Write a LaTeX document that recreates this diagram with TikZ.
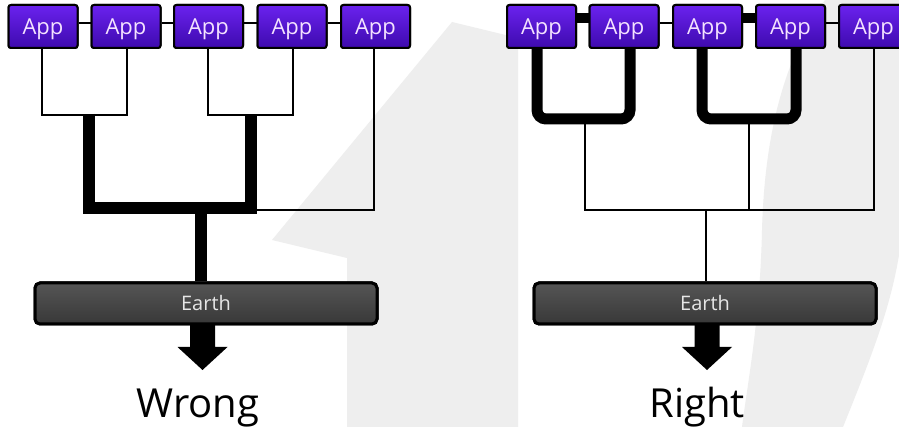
\documentclass[tikz,border=0pt]{standalone}
\usepackage{fontspec}
\setmainfont{Open Sans}
\usetikzlibrary{calc}
\definecolor{bgg}{HTML}{EEEEEE}
\definecolor{apptop}{HTML}{6A22EE}
\definecolor{appbot}{HTML}{3E0AAE}
\definecolor{apptext}{HTML}{F4E2FF}
\definecolor{earthtop}{HTML}{555555}
\definecolor{earthbot}{HTML}{383838}
\definecolor{earthtext}{HTML}{E6E6E6}
\tikzset{
  appbox/.style={draw=black, line width=2pt, rounded corners=2.5pt,
    top color=apptop, bottom color=appbot, text=apptext,
    minimum width=69pt, minimum height=43pt, inner sep=0pt,
    text height=16pt, text depth=0pt,
    font=\fontsize{22}{22}\selectfont},
  earthbar/.style={draw=black, line width=3pt, rounded corners=5pt,
    top color=earthtop, bottom color=earthbot, text=earthtext,
    minimum width=342pt, minimum height=41pt, inner sep=0pt,
    text height=14.5pt, text depth=0pt,
    font=\fontsize{20}{20}\selectfont},
  thinline/.style={draw=black, line width=2pt},
  thickline/.style={draw=black, line width=12pt},
  thickround/.style={draw=black, line width=11pt, rounded corners=9pt},
  link/.style={draw=black, line width=2pt},
  thicklink/.style={draw=black, line width=10pt},
  verdict/.style={anchor=base, font=\fontsize{40}{40}\selectfont, text=black, inner sep=0pt},
  bigarrow/.style={fill=black}
}
\begin{document}
\begin{tikzpicture}[x=1pt,y=-1pt]
\useasboundingbox (0,0) rectangle (899,427);
\fill[white] (0,0) rectangle (899,427);
% faint watermark shapes
\fill[bgg] (347,427) -- (347,258) -- (272,240) -- (452,22) -- (518,38) -- (518,427) -- cycle;
\fill[bgg] (825,0) .. controls (790,50) and (765,120) .. (762,230)
  .. controls (760,320) and (748,380) .. (742,427) -- (843,427)
  .. controls (870,360) and (890,310) .. (899,255) -- (899,0) -- cycle;

\coordinate (ythin) at (0,23);
\coordinate (ythick) at (0,18);

% ================= LEFT (Wrong) =================
\coordinate (la1) at (42,115);
\coordinate (la2) at (127,115);
\coordinate (lb1) at (208,115);
\coordinate (lb2) at (293,115);
\coordinate (lta) at (89,115);
\coordinate (ltb) at (251,115);
\coordinate (ltc) at (89,208);
\coordinate (ltd) at (251,208);
\coordinate (lj) at (201,208);
\coordinate (l5j) at (374,210);
\coordinate (lstub) at (257,210);

\node[appbox] (L1) at (43,26.5) {App};
\node[appbox] (L2) at (126,26.5) {App};
\node[appbox] (L3) at (208.5,26.5) {App};
\node[appbox] (L4) at (292,26.5) {App};
\node[appbox] (L5) at (375.5,26.5) {App};
\node[earthbar] (LE) at (206,303.5) {Earth};

\draw[link] (L1.east |- ythin) -- (L2.west |- ythin);
\draw[link] (L2.east |- ythin) -- (L3.west |- ythin);
\draw[link] (L3.east |- ythin) -- (L4.west |- ythin);
\draw[link] (L4.east |- ythin) -- (L5.west |- ythin);

\draw[thinline] (L1.south -| la1) -- (la1) -- (la2) -- (L2.south -| la2);
\draw[thinline] (L3.south -| lb1) -- (lb1) -- (lb2) -- (L4.south -| lb2);
\draw[thinline] (L5.south -| l5j) -- (l5j) -- (lstub);
\draw[thickline] ($(lta)+(0,-1)$) -- (ltc) -- (ltd) -- ($(ltb)+(0,-1)$);
\draw[thickline] (lj) -- (LE.north -| lj);

\node[appbox] at (L1) {App};
\node[appbox] at (L2) {App};
\node[appbox] at (L3) {App};
\node[appbox] at (L4) {App};
\node[appbox] at (L5) {App};
\node[earthbar] at (LE) {Earth};

\coordinate (la) at (202.5,325);
\fill[bigarrow] ($(la)+(-12.5,0)$) -- ($(la)+(-12.5,22)$) -- ($(la)+(-25,22)$)
  -- ($(la)+(0,45)$) -- ($(la)+(25,22)$) -- ($(la)+(12.5,22)$) -- ($(la)+(12.5,0)$) -- cycle;
\node[verdict] (wrong) at (198,417) {Wrong};

% ================= RIGHT (Right) =================
\coordinate (ra1) at (537,119);
\coordinate (ra2) at (630,119);
\coordinate (rb1) at (702,119);
\coordinate (rb2) at (796,119);
\coordinate (rc1) at (585,119);
\coordinate (rc2) at (749,119);
\coordinate (rd1) at (585,210);
\coordinate (rd2) at (749,210);
\coordinate (r5j) at (873.5,210);
\coordinate (rj) at (706,210);

\node[appbox] (R1) at (541.5,26.5) {App};
\node[appbox] (R2) at (624,26.5) {App};
\node[appbox] (R3) at (707.5,26.5) {App};
\node[appbox] (R4) at (790.5,26.5) {App};
\node[appbox] (R5) at (873.5,26.5) {App};
\node[earthbar] (RE) at (705,303.5) {Earth};

\draw[thicklink] (R1.east |- ythick) -- (R2.west |- ythick);
\draw[link] (R2.east |- ythin) -- (R3.west |- ythin);
\draw[thicklink] (R3.east |- ythick) -- (R4.west |- ythick);
\draw[link] (R4.east |- ythin) -- (R5.west |- ythin);

\draw[thinline] (rc1) -- (rd1) -- (r5j) -- (R5.south -| r5j);
\draw[thinline] (rc2) -- (rd2);
\draw[thinline] (rj) -- (RE.north -| rj);
\draw[thickround] (R1.south -| ra1) -- (ra1) -- (ra2) -- (R2.south -| ra2);
\draw[thickround] (R3.south -| rb1) -- (rb1) -- (rb2) -- (R4.south -| rb2);

\node[appbox] at (R1) {App};
\node[appbox] at (R2) {App};
\node[appbox] at (R3) {App};
\node[appbox] at (R4) {App};
\node[appbox] at (R5) {App};
\node[earthbar] at (RE) {Earth};

\coordinate (ra) at (707,325);
\fill[bigarrow] ($(ra)+(-12.5,0)$) -- ($(ra)+(-12.5,22)$) -- ($(ra)+(-25,22)$)
  -- ($(ra)+(0,45)$) -- ($(ra)+(25,22)$) -- ($(ra)+(12.5,22)$) -- ($(ra)+(12.5,0)$) -- cycle;
\node[verdict] (right) at (697,417) {Right};
\end{tikzpicture}
\end{document}
